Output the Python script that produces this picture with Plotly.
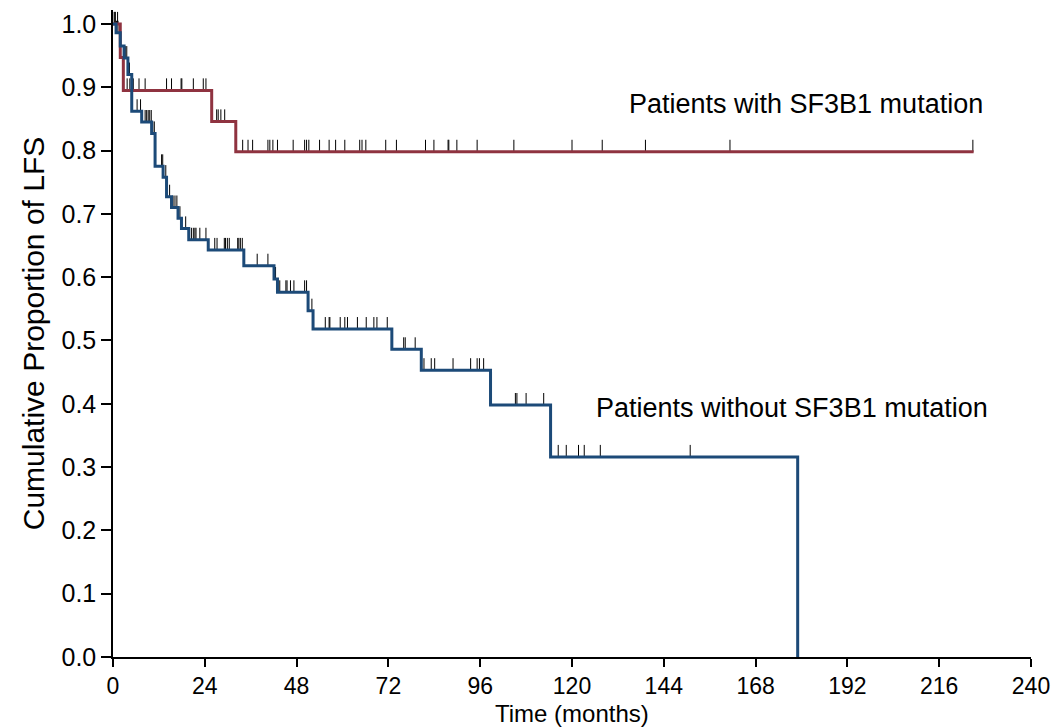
import plotly.graph_objects as go

# ---- Data ----
# Step curve for patients with SF3B1 mutation: times of drops and survival after each drop
mut_times = [0, 1.9, 2.7, 25.8, 32.1]
mut_surv = [1.0, 0.947, 0.895, 0.846, 0.798]
mut_end = 225.0
mut_censor = [0.5, 1.2, 3.7, 4.4, 5.3, 6.8, 8.4, 14.0, 15.3, 17.8, 18.0, 21.0, 23.6, 24.3,
              27.1, 27.5, 28.2, 29.2,
              33.9, 35.3, 36.5, 40.5, 41.0, 41.8, 43.0, 47.1, 50.1, 50.6, 51.2, 54.0, 56.5,
              58.2, 60.6, 64.5, 65.1, 66.1, 71.3, 74.1, 81.7, 83.9, 87.6, 87.8, 89.9, 95.2,
              104.8, 120.0, 127.9, 139.2, 161.3, 224.8]

# Step curve for patients without SF3B1 mutation
wt_times = [0, 0.8, 1.9, 2.9, 3.9, 4.9, 7.5, 10.1, 11.0, 13.1, 14.0, 15.3, 17.0, 17.9,
            19.8, 24.9, 34.2, 42.1, 43.0, 51.0, 52.3, 72.9, 80.6, 98.7, 114.4, 179.0]
wt_surv = [1.0, 0.986, 0.965, 0.946, 0.920, 0.862, 0.845, 0.827, 0.775, 0.758, 0.727,
           0.710, 0.693, 0.677, 0.659, 0.643, 0.618, 0.597, 0.576, 0.547, 0.518, 0.486,
           0.453, 0.398, 0.316, 0.0]
wt_censor = [0.3, 0.6, 0.9, 1.3, 3.2, 3.6, 4.3, 6.3, 7.2, 8.4, 8.8, 9.2, 9.6, 10.0, 10.4,
             10.8, 12.7, 13.0, 13.8, 14.8, 15.7, 16.2, 16.7, 17.5, 19.0,
             20.5, 21.0, 21.4, 21.7, 22.7, 24.3,
             26.6, 27.2, 29.1, 29.4, 29.9, 30.4, 32.6, 32.9, 33.3, 33.8,
             37.7, 40.5, 42.5,
             43.6, 45.2, 45.5, 46.4, 47.3, 50.1, 50.6, 52.0,
             55.5, 56.5, 56.7, 59.4, 60.6, 61.3, 63.9, 66.2, 68.2, 69.0, 71.7,
             76.0, 76.4, 79.0,
             81.3, 83.2, 84.1, 88.9, 93.5, 95.2, 95.8, 96.9,
             105.2, 105.6, 108.0, 112.6,
             116.4, 118.5, 121.7, 123.2, 127.4, 150.9]

x_ticks = [0, 24, 48, 72, 96, 120, 144, 168, 192, 216, 240]
y_ticks = [0.0, 0.1, 0.2, 0.3, 0.4, 0.5, 0.6, 0.7, 0.8, 0.9, 1.0]

RED = "#8f3340"
BLUE = "#1c4a78"
FONT = "Liberation Sans, Arial, Helvetica, sans-serif"
TICK_H = 0.019


def step_xy(times, surv, end):
    xs, ys = [], []
    for i, (t, s) in enumerate(zip(times, surv)):
        if i > 0:
            xs.append(t)
            ys.append(surv[i - 1])
        xs.append(t)
        ys.append(s)
    if end is not None and end > times[-1]:
        xs.append(end)
        ys.append(surv[-1])
    return xs, ys


def level_at(times, surv, t):
    v = surv[0]
    for tt, s in zip(times, surv):
        if tt <= t:
            v = s
    return v


def censor_xy(times, surv, cens):
    xs, ys = [], []
    for c in cens:
        lv = level_at(times, surv, c)
        xs += [c, c, None]
        ys += [lv, lv + TICK_H, None]
    return xs, ys


fig = go.Figure()

cx1, cy1 = censor_xy(mut_times, mut_surv, mut_censor)
cx2, cy2 = censor_xy(wt_times, wt_surv, wt_censor)
fig.add_trace(go.Scatter(x=cx1 + cx2, y=cy1 + cy2, mode="lines",
                         line=dict(color="black", width=1), showlegend=False,
                         hoverinfo="skip"))

mx, my = step_xy(mut_times, mut_surv, mut_end)
fig.add_trace(go.Scatter(x=mx, y=my, mode="lines", line=dict(color=RED, width=3),
                         showlegend=False, name="Patients with SF3B1 mutation"))
wx, wy = step_xy(wt_times, wt_surv, None)
fig.add_trace(go.Scatter(x=wx, y=wy, mode="lines", line=dict(color=BLUE, width=3),
                         showlegend=False, name="Patients without SF3B1 mutation"))

fig.add_annotation(x=228, y=0.874, xref="x", yref="y", text="Patients with SF3B1 mutation",
                   showarrow=False, xanchor="right", yanchor="middle",
                   font=dict(family=FONT, size=27, color="black"))
fig.add_annotation(x=229.3, y=0.393, xref="x", yref="y", text="Patients without SF3B1 mutation",
                   showarrow=False, xanchor="right", yanchor="middle",
                   font=dict(family=FONT, size=27, color="black"))
# x-axis title placed as an annotation below the tick labels
fig.add_annotation(x=0.5, y=-0.087, xref="paper", yref="paper", text="Time (months)",
                   showarrow=False, xanchor="center", yanchor="middle",
                   font=dict(family=FONT, size=24, color="black"))

fig.update_layout(
    width=1051, height=720,
    margin=dict(l=105, r=28, t=2, b=71),
    plot_bgcolor="white", paper_bgcolor="white",
    font=dict(family=FONT, size=23, color="black"),
    xaxis=dict(range=[0, 240], tickvals=x_ticks, ticktext=[str(v) for v in x_ticks],
               showline=True, linecolor="black", linewidth=1.5, ticks="outside",
               ticklen=8, tickwidth=1.5, tickcolor="black", showgrid=False, zeroline=False,
               tickfont=dict(size=23)),
    yaxis=dict(range=[0, 1.022], tickvals=y_ticks, ticktext=[f"{v:.1f}" for v in y_ticks],
               showline=True, linecolor="black", linewidth=1.5, ticks="outside",
               ticklen=10, tickwidth=1.5, tickcolor="black", showgrid=False, zeroline=False,
               title=dict(text="Cumulative Proportion of LFS", standoff=8, font=dict(size=30)),
               tickfont=dict(size=25)),
)

fig.write_html("out.html")
